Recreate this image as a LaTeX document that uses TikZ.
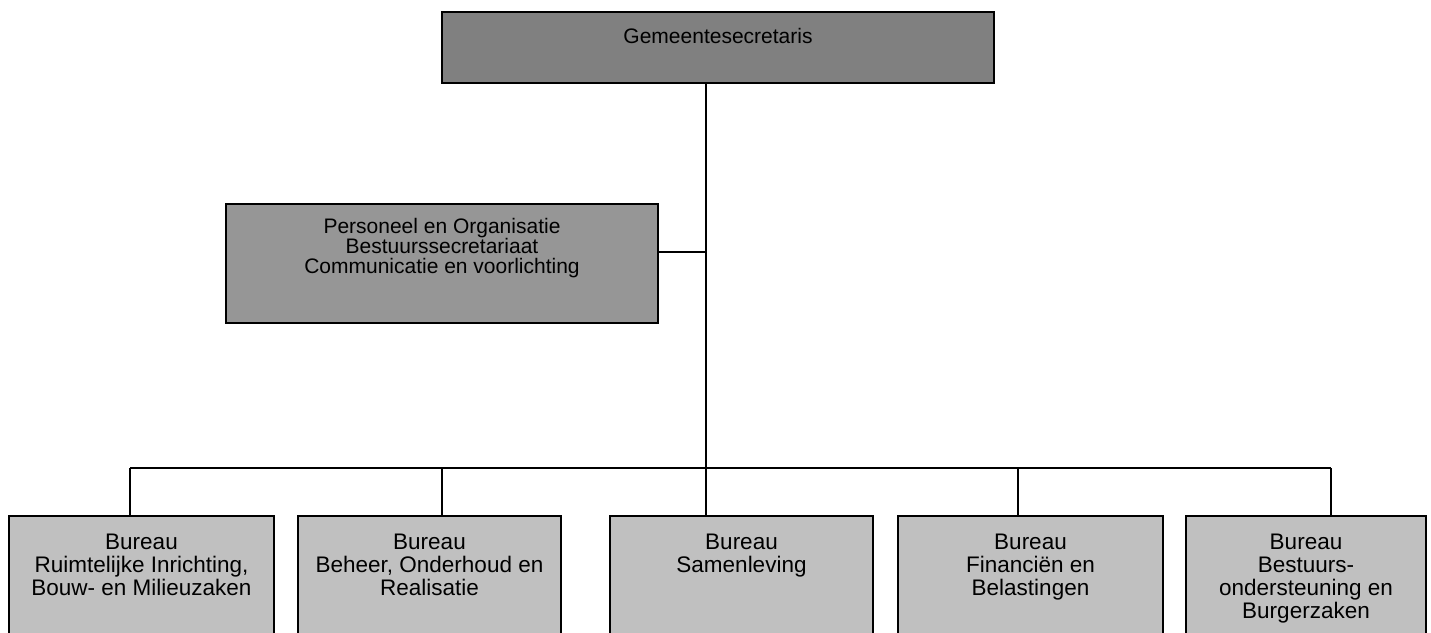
\documentclass[tikz,border=0pt]{standalone}
\usepackage{fontspec}
\setmainfont{Liberation Sans}
\usetikzlibrary{positioning}
\definecolor{headgray}{RGB}{128,128,128}
\definecolor{stafgray}{RGB}{150,150,150}
\definecolor{bureaugray}{RGB}{192,192,192}

\begin{document}
\begin{tikzpicture}[x=1pt,y=-1pt,
	box/.style={draw,line width=2pt,inner sep=0pt,outer sep=0pt},
	bureau/.style={box,fill=bureaugray,minimum height=130pt,minimum width=#1},
	txt/.style={inner sep=0pt,outer sep=0pt,align=center},
	wire/.style={line width=1.7pt}]
			\useasboundingbox (0,0) rectangle (1431,632);
			\clip (0,0) rectangle (1431,632);
			\node[box,fill=headgray,minimum width=552pt,minimum height=71pt,anchor=north west] (Secretaris) at (442,12) {};
			\node[box,fill=stafgray,minimum width=432pt,minimum height=119pt,anchor=north west]  (Staf)       at (226,204) {};
			\node[bureau=265pt,anchor=north west]     (BureauRO)  at (9,516) {};
			\node[bureau=263pt,right=24pt of BureauRO]  (BureauBOR) {};
			\node[bureau=263pt,right=49pt of BureauBOR] (BureauSam) {};
			\node[bureau=265pt,right=25pt of BureauSam] (BureauFin) {};
			\node[bureau=240pt,right=23pt of BureauFin] (BureauBB)  {};

			\node[txt,font=\fontsize{21}{20}\selectfont,below=16pt of Secretaris.north] (SecretarisTxt) {Gemeentesecretaris};
			\node[txt,font=\fontsize{21}{20}\selectfont,below=14pt of Staf.north] (StafTxt) {Personeel en Organisatie \\ Bestuurssecretariaat \\ Communicatie en voorlichting};
			\node[txt,font=\fontsize{22.5}{23}\selectfont,below=18pt of BureauRO.north]  (BureauROTxt)  {Bureau \\ Ruimtelijke Inrichting, \\ Bouw- en Milieuzaken};
			\node[txt,font=\fontsize{22.5}{23}\selectfont,below=18pt of BureauBOR.north] (BureauBORTxt) {Bureau \\ Beheer, Onderhoud en \\ Realisatie};
			\node[txt,font=\fontsize{22.5}{23}\selectfont,below=18pt of BureauSam.north] (BureauSamTxt) {Bureau \\ Samenleving};
			\node[txt,font=\fontsize{22.5}{23}\selectfont,below=18pt of BureauFin.north] (BureauFinTxt) {Bureau \\ Financiën en \\ Belastingen};
			\node[txt,font=\fontsize{22.5}{23}\selectfont,below=18pt of BureauBB.north]  (BureauBBTxt)  {Bureau \\ Bestuurs- \\ ondersteuning en \\ Burgerzaken};

			\coordinate (bus) at (706,468);
			\coordinate (stafjoin) at (706,252);
			\draw[wire] (Secretaris.south -| bus) -- (bus);
			\draw[wire] (stafjoin -| Staf.east) -- (stafjoin);
			\draw[wire] ([xshift=-11.5pt]BureauRO.north |- bus) -- ([xshift=25pt]BureauBB.north |- bus);
			\foreach \b/\s in {BureauRO/-11.5,BureauBOR/12.5,BureauSam/-35.5,BureauFin/-12.5,BureauBB/25}
				\draw[wire] ([xshift=\s pt]\b.north) -- ([xshift=\s pt]\b.north |- bus);
		\end{tikzpicture}
\end{document}
